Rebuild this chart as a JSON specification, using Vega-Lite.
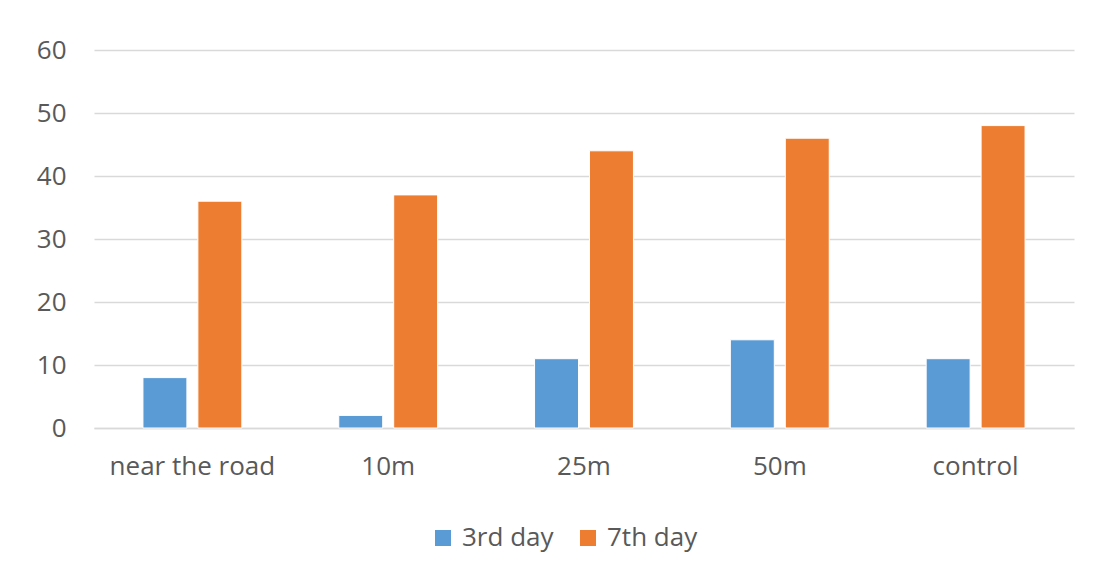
{
  "$schema": "https://vega.github.io/schema/vega-lite/v6.json",
  "width": 980,
  "height": 378,
  "autosize": {"type": "none"},
  "padding": {"left": 94, "top": 50, "right": 24, "bottom": 151},
  "background": "white",
  "data": {
    "values": [
      {"site": "near the road", "series": "3rd day", "value": 8},
      {"site": "near the road", "series": "7th day", "value": 36},
      {"site": "10m", "series": "3rd day", "value": 2},
      {"site": "10m", "series": "7th day", "value": 37},
      {"site": "25m", "series": "3rd day", "value": 11},
      {"site": "25m", "series": "7th day", "value": 44},
      {"site": "50m", "series": "3rd day", "value": 14},
      {"site": "50m", "series": "7th day", "value": 46},
      {"site": "control", "series": "3rd day", "value": 11},
      {"site": "control", "series": "7th day", "value": 48}
    ]
  },
  "mark": {"type": "bar", "stroke": "white", "strokeWidth": 1},
  "encoding": {
    "x": {
      "field": "site",
      "type": "nominal",
      "sort": ["near the road", "10m", "25m", "50m", "control"],
      "scale": {"paddingInner": 0.495, "paddingOuter": 0.25},
      "axis": {
        "title": null,
        "labelAngle": 0,
        "ticks": false,
        "domainColor": "#d9d9d9",
        "domainWidth": 1.5,
        "labelPadding": 25,
        "labelFontSize": 26,
        "labelColor": "#595959",
        "labelFont": "Open Sans",
        "labelOverlap": false
      }
    },
    "xOffset": {
      "field": "series",
      "type": "nominal",
      "scale": {"paddingInner": 0.2}
    },
    "y": {
      "field": "value",
      "type": "quantitative",
      "scale": {"domain": [0, 60]},
      "axis": {
        "title": null,
        "values": [0, 10, 20, 30, 40, 50, 60],
        "domain": false,
        "ticks": false,
        "gridColor": "#d9d9d9",
        "gridWidth": 1.5,
        "labelPadding": 28,
        "labelFontSize": 26,
        "labelColor": "#595959",
        "labelFont": "Open Sans",
        "labelOverlap": false
      }
    },
    "color": {
      "field": "series",
      "type": "nominal",
      "scale": {"domain": ["3rd day", "7th day"], "range": ["#5b9bd5", "#ed7d31"]},
      "legend": {
        "title": null,
        "orient": "none",
        "direction": "horizontal",
        "legendX": 336,
        "legendY": 475,
        "symbolType": "square",
        "symbolSize": 256,
        "symbolStrokeWidth": 0,
        "labelFontSize": 26,
        "labelColor": "#595959",
        "labelFont": "Open Sans",
        "columnPadding": 21,
        "labelOffset": 6
      }
    }
  },
  "config": {"view": {"stroke": null}}
}
